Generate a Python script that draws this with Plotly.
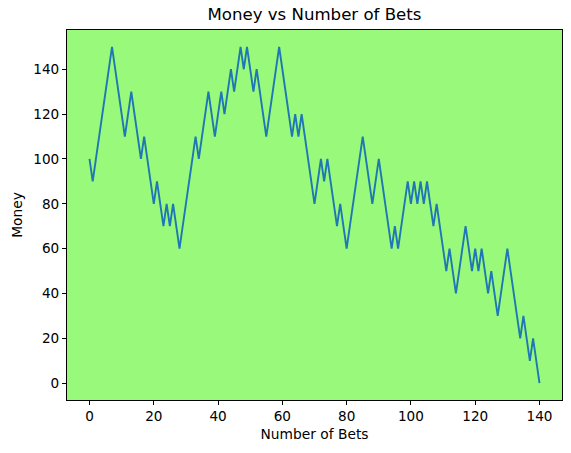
import plotly.graph_objects as go

bets = list(range(141))
money = [
    100, 90, 100, 110, 120, 130, 140, 150, 140, 130,
    120, 110, 120, 130, 120, 110, 100, 110, 100, 90,
    80, 90, 80, 70, 80, 70, 80, 70, 60, 70,
    80, 90, 100, 110, 100, 110, 120, 130, 120, 110,
    120, 130, 120, 130, 140, 130, 140, 150, 140, 150,
    140, 130, 140, 130, 120, 110, 120, 130, 140, 150,
    140, 130, 120, 110, 120, 110, 120, 110, 100, 90,
    80, 90, 100, 90, 100, 90, 80, 70, 80, 70,
    60, 70, 80, 90, 100, 110, 100, 90, 80, 90,
    100, 90, 80, 70, 60, 70, 60, 70, 80, 90,
    80, 90, 80, 90, 80, 90, 80, 70, 80, 70,
    60, 50, 60, 50, 40, 50, 60, 70, 60, 50,
    60, 50, 60, 50, 40, 50, 40, 30, 40, 50,
    60, 50, 40, 30, 20, 30, 20, 10, 20, 10,
    0,
]
x_ticks = [0, 20, 40, 60, 80, 100, 120, 140]
y_ticks = [0, 20, 40, 60, 80, 100, 120, 140]

font_family = "DejaVu Sans"

fig = go.Figure()
fig.add_trace(go.Scatter(
    x=bets, y=money, mode="lines",
    line=dict(color="#1f77b4", width=1.9),
    showlegend=False, hoverinfo="skip",
))

axis_common = dict(
    showline=True, linecolor="black", linewidth=1, mirror=True,
    ticks="outside", ticklen=4, tickwidth=1, tickcolor="black",
    showgrid=False, zeroline=False, automargin=False,
    tickfont=dict(family=font_family, size=13.6, color="black"),
)

fig.update_layout(
    width=571, height=453,
    margin=dict(l=67, r=9, t=30, b=53),
    paper_bgcolor="white",
    plot_bgcolor="#98f97b",
    font=dict(family=font_family, color="black"),
    title=dict(
        text="Money vs Number of Bets",
        x=(67 + 562) / 2 / 571, xanchor="center",
        y=1 - 14 / 453, yanchor="middle",
        font=dict(family=font_family, size=16.6, color="black"),
        automargin=False,
    ),
    xaxis=dict(
        range=[-7, 147], tickvals=x_ticks,
        title=dict(text="Number of Bets", font=dict(family=font_family, size=13.8), standoff=6),
        **axis_common,
    ),
    yaxis=dict(
        range=[-7.5, 157.5], tickvals=y_ticks,
        title=dict(text="Money", font=dict(family=font_family, size=13.8), standoff=7),
        **axis_common,
    ),
)

fig.write_html(
    "out.html",
    config={"displayModeBar": False},
    post_script="document.body.style.margin='0';document.body.style.overflow='hidden';",
)
